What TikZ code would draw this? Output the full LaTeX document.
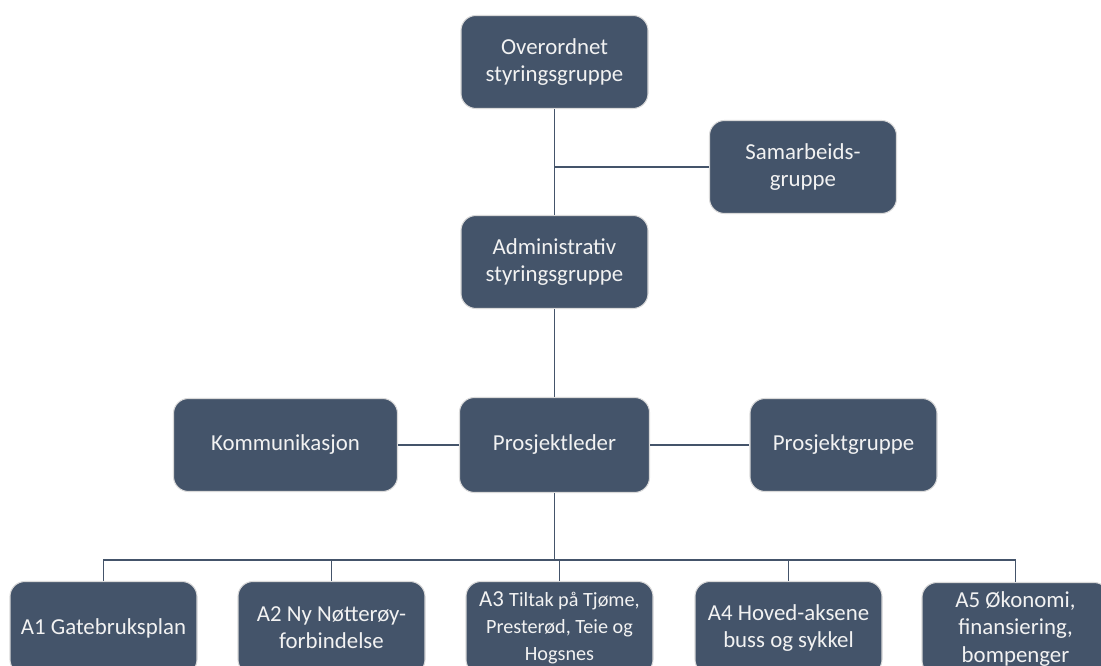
\documentclass[tikz,border=0pt]{standalone}
\usepackage{fontspec}
\setmainfont{Carlito}
\usetikzlibrary{positioning}
\definecolor{boxblue}{HTML}{44546A}
\definecolor{boxtext}{HTML}{F2F2F2}
\tikzstyle{unit} = [rectangle, rounded corners=0.3cm, minimum width=3.74cm, minimum height=1.86cm, text centered, align=center, draw=gray!30, line width=0.6pt, fill=boxblue, text=boxtext, font=\fontsize{13}{15.5}\selectfont]
\tikzstyle{line} = [line width=1pt, draw=boxblue]

\begin{document}
\begin{tikzpicture}[node distance=4cm]
\useasboundingbox (0,0) rectangle (22.02,-13.32);

\node (overordnet) [unit] at (11.09,-1.24) {Overordnet\\styringsgruppe};
\node (samarbeid) [unit, right of=overordnet, xshift=0.97cm, yshift=-2.1cm] {Samarbeids-\\gruppe};
\node (admin) [unit, below of=overordnet] {Administrativ\\styringsgruppe};
\node (leder) [unit, below of=admin, yshift=0.34cm, minimum width=3.8cm, minimum height=1.9cm] {Prosjektleder};
\node (kommunikasjon) [unit, left of=leder, xshift=-1.38cm, minimum width=4.48cm] {Kommunikasjon};
\node (gruppe) [unit, right of=leder, xshift=1.78cm] {Prosjektgruppe};

\node (a3) [unit, below of=leder, yshift=0.34cm, xshift=0.1cm] {{\fontsize{13}{14}\selectfont A3} {\fontsize{11.5}{14}\selectfont Tiltak på Tjøme,}\\{\fontsize{11.5}{14}\selectfont Presterød, Teie og}\\{\fontsize{11.5}{14}\selectfont Hogsnes}};
\node (a2) [unit, left of=a3, xshift=-0.56cm] {A2 Ny Nøtterøy-\\forbindelse};
\node (a1) [unit, left of=a2, xshift=-0.56cm] {A1 Gatebruksplan};
\node (a4) [unit, right of=a3, xshift=0.58cm] {A4 Hoved-aksene\\buss og sykkel};
\node (a5) [unit, right of=a4, xshift=0.54cm, yshift=-0.02cm] {A5 Økonomi,\\finansiering,\\bompenger};

\coordinate [below of=leder, node distance=2.3cm] (bus);

\draw [line] (overordnet) -- (admin);
\draw [line] (samarbeid.west) -- (samarbeid.west -| overordnet);
\draw [line] (admin) -- (leder);
\draw [line] (kommunikasjon) -- (leder);
\draw [line] (leder) -- (gruppe);

\draw [line] (leder.south) -- (bus) -| (a1.north);
\draw [line] (bus) -| (a2.north);
\draw [line] (bus) -| (a3.north);
\draw [line] (bus) -| (a4.north);
\draw [line] (bus) -| (a5.north);

\end{tikzpicture}
\end{document}
